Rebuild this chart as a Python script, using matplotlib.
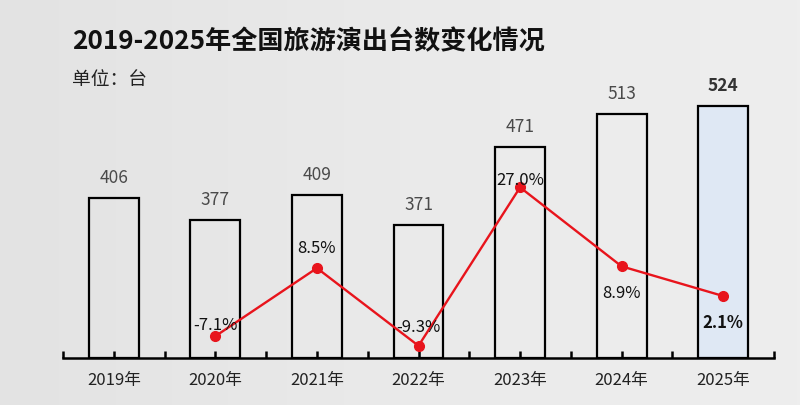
import numpy as np
from matplotlib import pyplot as plt
from matplotlib.ticker import FixedLocator

plt.rcParams['font.family'] = ['Noto Sans CJK SC', 'DejaVu Sans']

# ===== data =====
years = ['2019年', '2020年', '2021年', '2022年', '2023年', '2024年', '2025年']
shows = [406, 377, 409, 371, 471, 513, 524]
growth = [None, -7.1, 8.5, -9.3, 27.0, 8.9, 2.1]

# label offsets for the growth labels (pixels, + is above the point)
growth_offsets = [0, 11, 20, 18, 7, -27, -27]

fig = plt.figure(figsize=(8, 4.05), dpi=100)

# light grey paper background, a bit lighter to the right
bg = fig.add_axes([0, 0, 1, 1], zorder=-10)
grad = np.linspace(0, 1, 256).reshape(1, -1)
bg.imshow(grad, aspect='auto', cmap=plt.matplotlib.colors.LinearSegmentedColormap.from_list(
    'paper', ['#e3e3e3', '#eaeaea', '#eeeeee']), extent=[0, 1, 0, 1])
bg.axis('off')

ax = fig.add_axes([63 / 800, 47 / 405, 711 / 800, 278 / 405])
ax.patch.set_alpha(0)
x = np.arange(len(years))

colors = ['none'] * (len(years) - 1) + ['#dfe8f4']
ax.bar(x, [v - 200 for v in shows], bottom=200, width=0.49, color=colors,
       edgecolor='black', linewidth=1.6, zorder=2)
ax.set_ylim(200, 557)
ax.set_xlim(-0.5, len(years) - 0.5)

for i, v in enumerate(shows):
    last = i == len(shows) - 1
    ax.annotate(str(v), (i, v), xytext=(0, 20), textcoords='offset pixels',
                ha='center', va='center', fontsize=12.5,
                color='#333333' if last else '#4a4a4a',
                fontweight='bold' if last else 'normal')

# spines and ticks
for s in ['top', 'right', 'left']:
    ax.spines[s].set_visible(False)
ax.spines['bottom'].set_linewidth(1.8)
ax.set_yticks([])
ax.set_xticks(x)
ax.set_xticklabels(years, fontsize=12, color='#222222')
ax.xaxis.set_minor_locator(FixedLocator(np.arange(-0.5, len(years), 1.0)))
ax.tick_params(axis='x', which='both', direction='in', length=5, width=1.8, pad=10)

# growth line on a second axis
ax2 = ax.twinx()
ax2.set_ylim(-12.1, 51.6)
gx = [i for i, g in enumerate(growth) if g is not None]
gy = [g for g in growth if g is not None]
ax2.plot(gx, gy, color='#e8141c', linewidth=1.7, marker='o', markersize=7, zorder=3)
for i, g in zip(gx, gy):
    last = i == len(growth) - 1
    ax2.annotate(f'{g:.1f}%', (i, g), xytext=(0, growth_offsets[i]),
                 textcoords='offset pixels', ha='center', va='center',
                 fontsize=12, color='#111111',
                 fontweight='bold' if last else 'normal')
ax2.axis('off')

fig.text(72 / 800, 1 - 42 / 405, '2019-2025年全国旅游演出台数变化情况',
         fontsize=18.8, fontweight='bold', color='#111111', va='center')
fig.text(72 / 800, 1 - 79 / 405, '单位：台', fontsize=13.5, color='#222222', va='center')

plt.savefig('out.png', dpi=100)
